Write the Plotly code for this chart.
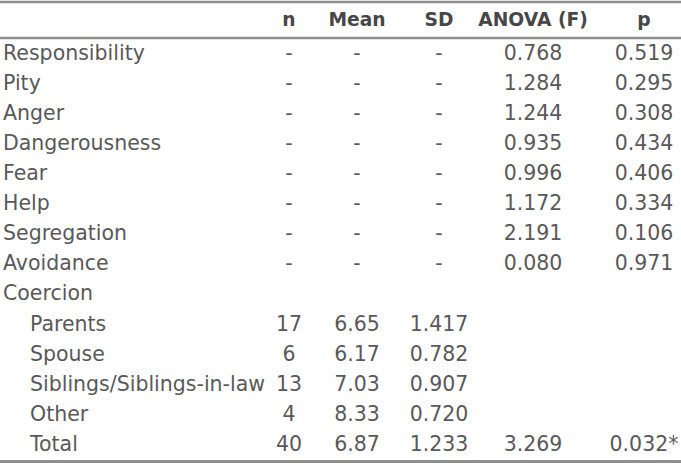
import plotly.graph_objects as go

# ---- data ----
columns = ["n", "Mean", "SD", "ANOVA (F)", "p"]

variables = ["Responsibility", "Pity", "Anger", "Dangerousness", "Fear",
             "Help", "Segregation", "Avoidance"]
var_anova_f = ["0.768", "1.284", "1.244", "0.935", "0.996", "1.172", "2.191", "0.080"]
var_p = ["0.519", "0.295", "0.308", "0.434", "0.406", "0.334", "0.106", "0.971"]

group_title = "Coercion"
groups = ["Parents", "Spouse", "Siblings/Siblings-in-law", "Other", "Total"]
group_n = ["17", "6", "13", "4", "40"]
group_mean = ["6.65", "6.17", "7.03", "8.33", "6.87"]
group_sd = ["1.417", "0.782", "0.907", "0.720", "1.233"]
group_anova_f = ["", "", "", "", "3.269"]
group_p = ["", "", "", "", "0.032*"]

# ---- build table rows ----
labels = variables + [group_title] + groups
indent = [False] * len(variables) + [False] + [True] * len(groups)
col_n = ["-"] * len(variables) + [""] + group_n
col_mean = ["-"] * len(variables) + [""] + group_mean
col_sd = ["-"] * len(variables) + [""] + group_sd
col_f = var_anova_f + [""] + group_anova_f
col_p = var_p + [""] + group_p
body_cols = [col_n, col_mean, col_sd, col_f, col_p]

# ---- layout constants ----
W, H = 681, 464
first_row_y = 54.5
row_step = 30.1
header_y = 21
label_x = 3
indent_x = 30
col_centers = [289, 357, 439, 533, 644]
text_color = "#595959"
head_color = "#474747"
body_font = dict(family="DejaVu Sans, Verdana, sans-serif", size=20.5, color=text_color)
head_font = dict(family="DejaVu Sans, Verdana, sans-serif", size=18.7, color=head_color)

row_y = [first_row_y + i * row_step for i in range(len(labels))]

fig = go.Figure()

# row labels
fig.add_trace(go.Scatter(
    x=[indent_x if ind else label_x for ind in indent],
    y=row_y, text=labels, mode="text", textposition="middle right",
    textfont=body_font, hoverinfo="skip", showlegend=False))

# body columns
for cx, col in zip(col_centers, body_cols):
    fig.add_trace(go.Scatter(
        x=[cx] * len(col), y=row_y, text=col, mode="text",
        textposition="middle center", textfont=body_font,
        hoverinfo="skip", showlegend=False))

# header
fig.add_trace(go.Scatter(
    x=col_centers, y=[header_y] * len(columns),
    text=["<b>%s</b>" % c for c in columns], mode="text",
    textposition="middle center", textfont=head_font,
    hoverinfo="skip", showlegend=False))

# rules
rule_color = "#8f8f8f"
for yy, w in [(2, 2.5), (38, 2.5), (461.5, 3)]:
    fig.add_shape(type="line", xref="x", yref="y", x0=0, x1=W, y0=yy, y1=yy,
                  line=dict(color=rule_color, width=w))

fig.update_layout(
    width=W, height=H,
    margin=dict(l=0, r=0, t=0, b=0),
    paper_bgcolor="white", plot_bgcolor="white",
    xaxis=dict(range=[0, W], visible=False, fixedrange=True),
    yaxis=dict(range=[H, 0], visible=False, fixedrange=True),
)

fig.write_html(
    "out.html",
    config={"displayModeBar": False},
    post_script="document.body.style.margin='0';document.body.style.overflow='hidden';",
)
